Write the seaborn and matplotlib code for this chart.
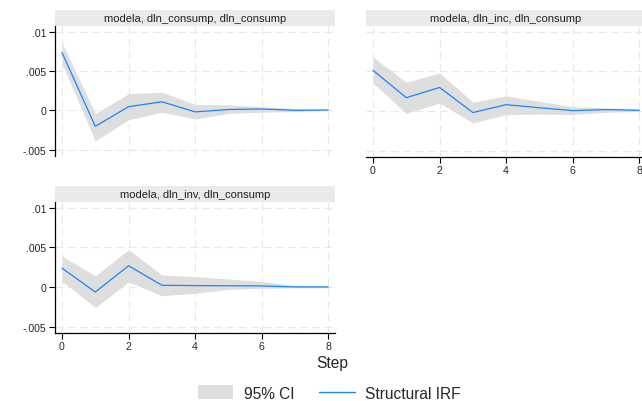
import numpy as np
import pandas as pd
import seaborn as sns
import matplotlib.pyplot as plt
from matplotlib.patches import Patch, Rectangle
from matplotlib.lines import Line2D

steps = [0, 1, 2, 3, 4, 5, 6, 7, 8]
panels = [
    "modela, dln_consump, dln_consump",
    "modela, dln_inc, dln_consump",
    "modela, dln_inv, dln_consump",
]
irf_cons = [0.00733, -0.00204, 0.00046, 0.00108, -0.0002, 0.0001, 0.00017, 0.0, 0.00004]
lo_cons = [0.0059, -0.0039, -0.0012, -0.00025, -0.0011, -0.0004, -0.00025, -0.00015, -0.00005]
hi_cons = [0.0086, -0.0004, 0.0021, 0.0023, 0.00075, 0.0007, 0.00045, 0.00025, 0.0001]
irf_inc = [0.00512, 0.00167, 0.00296, -0.0002, 0.00079, 0.0004, 0.00004, 0.00017, 0.00008]
lo_inc = [0.0035, -0.0003, 0.001, -0.0015, -0.00045, -0.0004, -0.00045, -0.00017, -0.00005]
hi_inc = [0.0068, 0.0036, 0.0048, 0.0011, 0.0019, 0.0012, 0.00054, 0.0004, 0.00025]
irf_inv = [0.00237, -0.00064, 0.00267, 0.00021, 0.00017, 0.00015, 0.00013, 0.0, 0.0]
lo_inv = [0.00076, -0.0026, 0.00064, -0.0011, -0.0008, -0.0003, -0.00017, -0.0001, -0.0001]
hi_inv = [0.0039, 0.0014, 0.0047, 0.0015, 0.0013, 0.001, 0.0007, 0.0002, 0.0001]

frames = []
for name, irf, lo, hi in zip(panels, [irf_cons, irf_inc, irf_inv],
                             [lo_cons, lo_inc, lo_inv], [hi_cons, hi_inc, hi_inv]):
    frames.append(pd.DataFrame({"step": steps, "irf": irf, "lo": lo, "hi": hi, "panel": name}))
df = pd.concat(frames, ignore_index=True)

sns.set_style("white")
plt.rcParams["font.family"] = ["Liberation Sans", "DejaVu Sans"]

W, H = 642, 402
fig = plt.figure(figsize=(W / 100, H / 100), dpi=100)

blue = "#1a85ff"
ci_col = "#dedede"
grid_col = "#e8e8e8"

# (left, top, bottom) in pixels
boxes = [(55, 27, 157), (366, 27, 158), (55, 203, 334)]
pw = 280

for i, (name, (lx, ty, by)) in enumerate(zip(panels, boxes)):
    ax = fig.add_axes([lx / W, 1 - by / H, pw / W, (by - ty) / H])
    d = df[df.panel == name]
    ax.fill_between(d.step, d.lo, d.hi, color=ci_col, lw=0, zorder=1)
    sns.lineplot(data=d, x="step", y="irf", ax=ax, color=blue, lw=0.9, zorder=3)
    ax.set_xlim(-0.21, 8.2)
    ax.set_ylim(-0.0058, 0.0107)
    ax.set_xticks([0, 2, 4, 6, 8])
    ax.set_yticks([-0.005, 0, 0.005, 0.01])
    ax.set_yticklabels(["-.005", "0", ".005", ".01"])
    ax.grid(True, color=grid_col, ls=(0, (7, 4)), lw=0.8, zorder=0)
    ax.set_xlabel("")
    ax.set_ylabel("")
    for s in ["top", "right"]:
        ax.spines[s].set_visible(False)
    show_x = i != 0
    show_y = i != 1
    ax.spines["bottom"].set_visible(show_x)
    ax.spines["left"].set_visible(show_y)
    for s in ["bottom", "left"]:
        ax.spines[s].set_color("black")
        ax.spines[s].set_linewidth(0.9)
    ax.tick_params(axis="x", bottom=show_x, labelbottom=show_x, length=4,
                   width=0.8, labelsize=7.6, pad=2, color="black")
    ax.tick_params(axis="y", left=show_y, labelleft=show_y, length=4,
                   width=0.8, labelsize=7.6, pad=2, color="black")
    # title strip
    sy = ty - 16
    fig.patches.append(Rectangle((lx / W, 1 - ty / H), pw / W, 16 / H,
                                 transform=fig.transFigure, color="#eaeaea", lw=0))
    fig.text((lx + pw / 2) / W, 1 - (sy + 8.5) / H, name, ha="center", va="center",
             fontsize=8, color="#222222")

fig.text(332 / W, 1 - 364 / H, "Step", ha="center", va="center", fontsize=11.2)

handles = [Patch(facecolor=ci_col, edgecolor="none"),
           Line2D([0], [0], color=blue, lw=1)]
fig.legend(handles, ["95% CI", "Structural IRF"], loc="center",
           bbox_to_anchor=(329 / W, 1 - 394 / H), ncol=2, frameon=False,
           fontsize=11.2, handlelength=2.3, handleheight=1.0, columnspacing=1.6,
           handletextpad=0.65, borderpad=0, borderaxespad=0)

fig.savefig("out.png", dpi=100)
